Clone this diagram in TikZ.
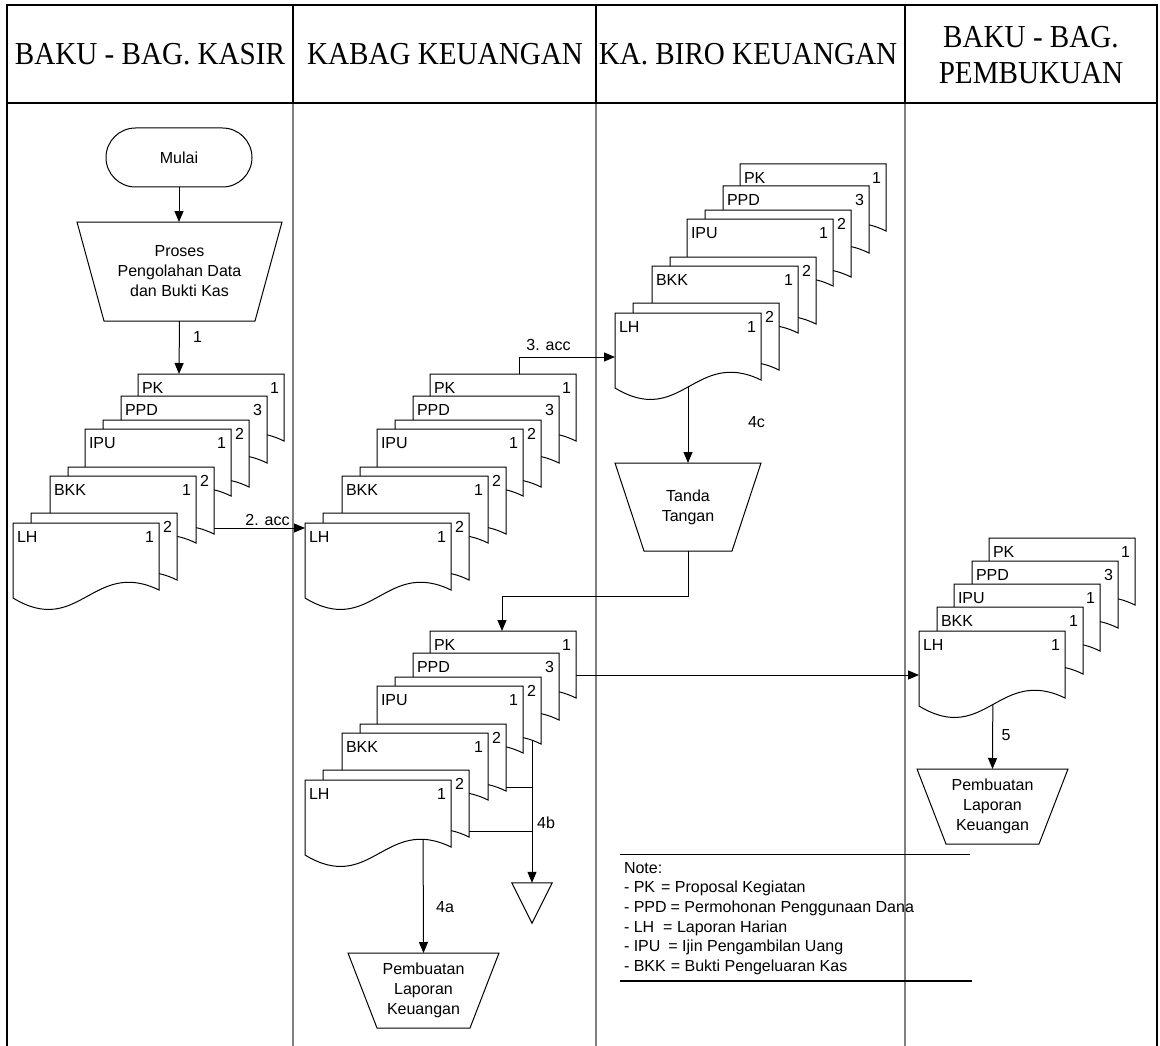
\documentclass[tikz,border=0pt]{standalone}
\usepackage{fontspec}
\usepackage{graphicx}
\setmainfont{Liberation Sans}
\newfontfamily\lanefont{Liberation Serif}
\usetikzlibrary{arrows.meta,calc}

\newcommand{\txtsize}{\fontsize{16}{20}\selectfont}
\colorlet{lanegray}{black!50}

% one document sheet: name, x, y (top-left), label, copy number
\newcommand{\docsheet}[5]{%
  \node[sheetbox] (#1) at ({#2},{#3}) {};
  \draw[sheetline] ({#2},{#3}) -- ({#2+146},{#3}) -- ({#2+146},{#3+67})
    .. controls ({#2+80},{#3+35}) and ({#2+66},{#3+115}) .. ({#2},{#3+75}) -- cycle;
  \node[tag, anchor=base west] (#1t) at ({#2+4},{#3+19.5}) {#4};
  \node[tag, anchor=base east] (#1n) at ({#2+141},{#3+19.5}) {#5};
}

% full set of sheets with second copies
\newcommand{\sheetstack}[3]{%
  \docsheet{#1pk}{#2+125}{#3-149}{PK}{1}
  \docsheet{#1ppd}{#2+108}{#3-127}{PPD}{3}
  \docsheet{#1ipuC}{#2+90}{#3-103}{}{2}
  \docsheet{#1ipu}{#2+72}{#3-94}{IPU}{1}
  \docsheet{#1bkkC}{#2+55}{#3-56}{}{2}
  \docsheet{#1bkk}{#2+37}{#3-47}{BKK}{1}
  \docsheet{#1lhC}{#2+18}{#3-10}{}{2}
  \docsheet{#1lh}{#2}{#3}{LH}{1}
}

% outline of an inverted trapezoid around a named box
\newcommand{\trapout}[2]{%
  \draw[shapeline] (#1.north west) -- (#1.north east)
    -- ([xshift=-#2pt]#1.south east) -- ([xshift=#2pt]#1.south west) -- cycle;
}

\tikzset{
  sheetbox/.style={anchor=north west, minimum width=146pt, minimum height=75pt,
    inner sep=0pt, outer sep=0pt},
  sheetline/.style={draw=black, fill=white, line width=1pt},
  tag/.style={inner sep=0pt, outer sep=0pt, font=\txtsize},
  flow/.style={draw=black, line width=1pt, -{Triangle[length=11pt,width=9pt]}},
  joint/.style={draw=black, line width=1pt},
  shapeline/.style={draw=black, line width=1pt},
  procbox/.style={inner sep=0pt, outer sep=0pt, align=center, font=\txtsize},
  lanetitle/.style={anchor=base, inner sep=0pt, font=\lanefont\fontsize{32}{36}\selectfont},
}

\begin{document}
\begin{tikzpicture}[x=1pt, y=-1pt]
\useasboundingbox (0,0) rectangle (1160,1046);

% ---- swimlanes ----
\foreach \lx in {293,596,905} {
  \draw[lanegray, line width=1.5pt] (\lx,103) -- (\lx,1046);
  \draw[black, line width=1.5pt] (\lx,5) -- (\lx,103);
}
\draw[black, line width=1.2pt] (7,103) -- (7,1046);
\draw[black, line width=1.2pt] (1157,103) -- (1157,1046);
\draw[black, line width=2pt] (7,5) rectangle (1157,103);

\node[lanetitle] (laneA) at (150,64.5) {\scalebox{0.91}[1]{BAKU - BAG. KASIR}};
\node[lanetitle] (laneB) at (445,64.5) {\scalebox{0.91}[1]{KABAG KEUANGAN}};
\node[lanetitle] (laneC) at (748,64.5) {\scalebox{0.91}[1]{KA. BIRO KEUANGAN}};
\node[lanetitle] (laneD1) at (1031,48) {\scalebox{0.91}[1]{BAKU - BAG.}};
\node[lanetitle] (laneD2) at (1031,84) {\scalebox{0.91}[1]{PEMBUKUAN}};

% ---- process boxes ----
\node[procbox, draw=black, line width=1pt, rounded corners=29.5pt,
      minimum width=146pt, minimum height=59pt] (mulai) at (179,157.5) {Mulai};

\node[procbox, minimum width=205pt, minimum height=99pt] (proses) at (179.5,271.5)
  {Proses\\Pengolahan Data\\dan Bukti Kas};
\trapout{proses}{27}

\node[procbox, minimum width=146pt, minimum height=88pt] (tanda) at (688,507)
  {Tanda\\Tangan};
\trapout{tanda}{29}

\node[procbox, minimum width=151pt, minimum height=75pt] (pemA) at (423.5,990.5)
  {Pembuatan\\Laporan\\Keuangan};
\trapout{pemA}{29}

\node[procbox, minimum width=151pt, minimum height=75pt] (pemB) at (992.5,806.5)
  {Pembuatan\\Laporan\\Keuangan};
\trapout{pemB}{29}

\node[inner sep=0pt, minimum width=40pt, minimum height=40pt] (store) at (532,903) {};
\draw[shapeline] (store.north west) -- (store.north east) -- (store.south) -- cycle;

% ---- origins of the sheet stacks (front sheet, top-left corner) ----
\path (13,523) coordinate (Aorg) (305,523) coordinate (Borg)
      (615,313) coordinate (Corg) (305,780) coordinate (Dorg) (919,631) coordinate (Eorg);

% ---- connectors drawn beneath the sheets ----
\draw[flow] (mulai.south) -- (mulai.south |- proses.north);
\draw[flow] (proses.south) -- ($(Aorg)+(166,-149)$);
\node[tag, anchor=base] (lbl1) at (197.5,342) {1};

\draw[flow] ($(Aorg)+(201,5)$) -- ($(Borg)+(0,5)$);
\node[tag, anchor=base] (lbl2) at (267.5,525) {2. acc};

\draw[flow] ($(Borg)+(214,-149)$) |- ($(Corg)+(0,44)$);
\node[tag, anchor=base] (lbl3) at (548.5,350) {3. acc};

\draw[flow] ($(Corg)+(73,40)$) -- (tanda.north);
\node[tag, anchor=base] (lbl4c) at (756.5,427) {4c};

\draw[flow] (tanda.south) -- ++(0,45) -| ($(Dorg)+(197,-149)$);

\draw[flow] ($(Dorg)+(271,-105)$) -- ($(Eorg)+(0,44)$);

\draw[flow] ($(Dorg)+(227,-63)$) -- (store.north);
\coordinate (jb) at ($(Dorg)+(201,7)$);
\coordinate (jl) at ($(Dorg)+(164,51)$);
\draw[joint] (jb) -- (jb -| store.north);
\draw[joint] (jl) -- (jl -| store.north);
\node[tag, anchor=base] (lbl4b) at (546,828) {4b};

\draw[flow] ($(Dorg)+(118,40)$) -- (pemA.north);
\node[tag, anchor=base] (lbl4a) at (445,912) {4a};

\draw[flow] ($(Eorg)+(74,40)$) -- (pemB.north);
\node[tag, anchor=base] (lbl5) at (1006,740) {5};

% ---- sheet stacks ----
\sheetstack{A}{13}{523}
\sheetstack{B}{305}{523}
\sheetstack{C}{615}{313}
\sheetstack{D}{305}{780}

\docsheet{Epk}{919+70}{631-93}{PK}{1}
\docsheet{Eppd}{919+53}{631-70}{PPD}{3}
\docsheet{Eipu}{919+35}{631-47}{IPU}{1}
\docsheet{Ebkk}{919+18}{631-24}{BKK}{1}
\docsheet{Elh}{919}{631}{LH}{1}

% ---- legend ----
\draw[black, line width=0.8pt] (620,854) -- (970,854);
\draw[black, line width=2.5pt] (620,981) -- (972,981);
\node[tag, anchor=base west] (note0) at (624,873) {Note:};
\node[tag, anchor=base west] (note1) at (624,892.7) {- PK\hspace{6pt}= Proposal Kegiatan};
\node[tag, anchor=base west] (note2) at (624,912.4) {- PPD\hspace{4pt}= Permohonan Penggunaan Dana};
\node[tag, anchor=base west] (note3) at (624,932.1) {- LH\hspace{9pt}= Laporan Harian};
\node[tag, anchor=base west] (note4) at (624,951.8) {- IPU\hspace{8pt}= Ijin Pengambilan Uang};
\node[tag, anchor=base west] (note5) at (624,971.5) {- BKK\hspace{5pt}= Bukti Pengeluaran Kas};
\end{tikzpicture}
\end{document}
